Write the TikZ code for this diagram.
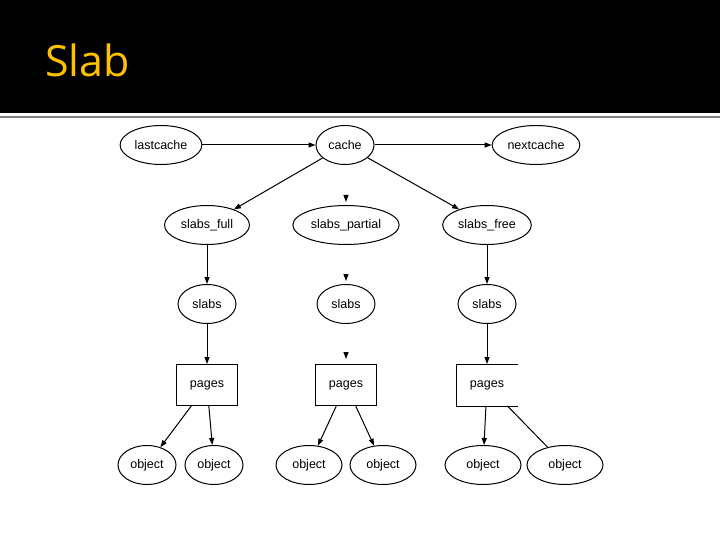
\documentclass[tikz,border=0pt]{standalone}
\usepackage{fontspec}
\setmainfont{Liberation Sans}
\newfontfamily\titlefont{Open Sans}
\usepackage{xcolor}
\usetikzlibrary{positioning, arrows.meta, shapes.geometric}
\definecolor{titlegold}{RGB}{255,192,0}

\begin{document}
\begin{tikzpicture}[
  x=1pt, y=1pt,
  node distance=80pt and 139pt, on grid,
  font=\fontsize{12.5}{14}\selectfont,
  every node/.style={inner sep=3pt},
  obj/.style={draw, ellipse, line width=1pt, minimum height=39pt, minimum width=58pt, inner xsep=2.5pt},
  pg/.style={draw, rectangle, line width=1pt, minimum height=41pt, minimum width=61pt},
  arr/.style={-{Triangle[length=7pt, width=5pt]}, line width=1pt}
]
\useasboundingbox (0,0) rectangle (720,-540);
\fill[black] (0,0) rectangle (720,-113);
\draw[black!50, line width=1.5pt] (0,-117) -- (720,-117);
\node[anchor=base west, inner sep=0pt, text=titlegold, font=\titlefont\fontsize{43}{50}\selectfont] (title) at (45,-77) {Slab};

\node[obj] (cache) at (345,-145) {cache};
\node[obj, left=184pt of cache] (lastcache) {lastcache};
\node[obj, right=191pt of cache] (nextcache) {nextcache};
\node[obj, below=80pt of cache, xshift=1pt] (partial) {slabs\_partial};
\node[obj, minimum width=85pt, left=of partial] (full) {slabs\_full};
\node[obj, right=141pt of partial] (free) {slabs\_free};
\node[obj, below=79pt of full] (slabsA) {slabs};
\node[obj, below=79pt of partial] (slabsB) {slabs};
\node[obj, below=79pt of free] (slabsC) {slabs};
\node[pg, below=81pt of slabsA] (pagesA) {pages};
\node[pg, below=81pt of slabsB] (pagesB) {pages};
\node[pg, draw=none, below=81pt of slabsC] (pagesC) {pages};
\node[obj, below left=80pt and 60pt of pagesA] (objA1) {object};
\node[obj, below right=80pt and 7pt of pagesA] (objA2) {object};
\node[obj, minimum width=66pt, below left=80pt and 37pt of pagesB] (objB1) {object};
\node[obj, minimum width=66pt, below right=80pt and 37pt of pagesB] (objB2) {object};
\node[obj, minimum width=76pt, below left=80pt and 4pt of pagesC] (objC1) {object};
\node[obj, minimum width=76pt, below right=80pt and 78pt of pagesC] (objC2) {object};

\draw[arr] (lastcache) -- (cache);
\draw[arr] (cache) -- (nextcache);
\draw[arr] (cache) -- (full);
\draw[arr] (cache) -- (free);
\draw[arr, shorten >=3pt] ([yshift=10pt]partial.north) -- (partial.north);
\draw[arr] (full) -- (slabsA);
\draw[arr, shorten >=3pt] ([yshift=10pt]slabsB.north) -- (slabsB.north);
\draw[arr] (free) -- (slabsC);
\draw[arr] (slabsA) -- (pagesA);
\draw[arr, shorten >=5pt] ([yshift=12pt]pagesB.north) -- (pagesB.north);
\draw[arr] (slabsC) -- (pagesC);
\draw[line width=1pt] (pagesC.north east) -- (pagesC.north west) -- (pagesC.south west) -- (pagesC.south east);
\draw[arr] (pagesA) -- (objA1);
\draw[arr] (pagesA) -- (objA2);
\draw[arr] (pagesB) -- (objB1);
\draw[arr] (pagesB) -- (objB2);
\draw[arr] (pagesC) -- (objC1);
\draw[line width=1pt] (pagesC) -- (objC2);
\end{tikzpicture}
\end{document}
